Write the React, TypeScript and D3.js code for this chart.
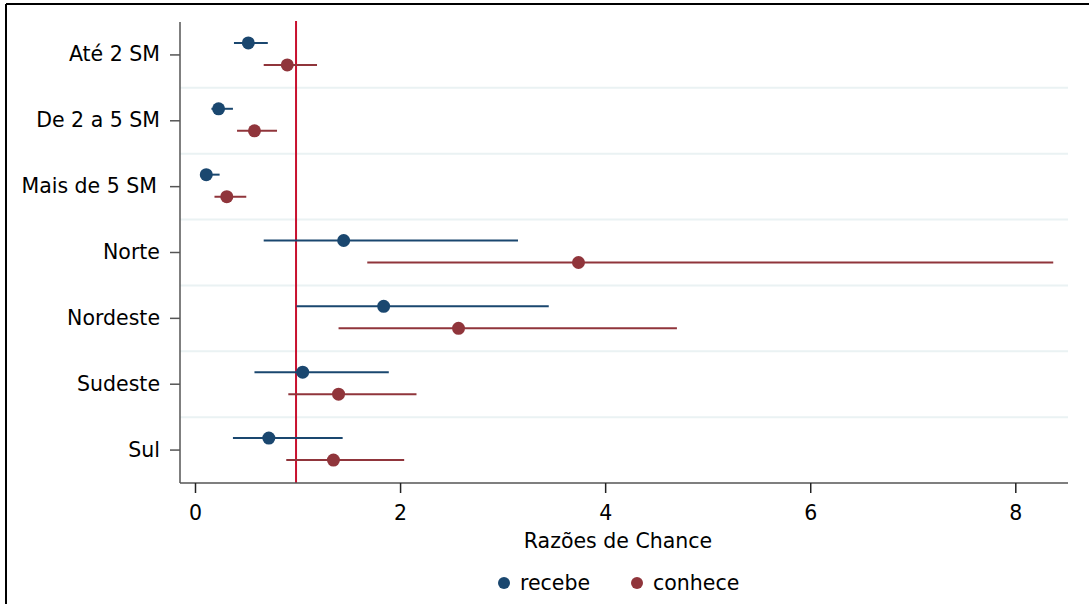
import React, { useRef, useEffect } from 'react';
import * as d3 from 'd3';

const categories = ['Até 2 SM', 'De 2 a 5 SM', 'Mais de 5 SM', 'Norte', 'Nordeste', 'Sudeste', 'Sul'];

// odds ratios and confidence intervals
const recebeOR = [0.52, 0.23, 0.11, 1.45, 1.84, 1.05, 0.72];
const recebeLow = [0.38, 0.16, 0.06, 0.67, 0.99, 0.58, 0.37];
const recebeHigh = [0.71, 0.37, 0.24, 3.15, 3.45, 1.89, 1.44];

const conheceOR = [0.9, 0.58, 0.31, 3.74, 2.57, 1.4, 1.35];
const conheceLow = [0.67, 0.41, 0.19, 1.68, 1.4, 0.91, 0.89];
const conheceHigh = [1.19, 0.8, 0.5, 8.37, 4.7, 2.16, 2.04];

const xTicks = [0, 2, 4, 6, 8];
const seriesNames = ['recebe', 'conhece'];
const colors = ['#1a476f', '#90353b'];

const App = () => {
  const ref = useRef(null);

  useEffect(() => {
    const width = 1089;
    const height = 604;
    const left = 180;
    const right = 1068;
    const top = 22;
    const bottom = 483;
    const font = '"DejaVu Sans", Verdana, sans-serif';
    const fs = '20.5px';

    d3.select(ref.current).selectAll('*').remove();

    const svg = d3
      .select(ref.current)
      .append('svg')
      .attr('width', width)
      .attr('height', height)
      .style('position', 'absolute')
      .style('left', '0px')
      .style('top', '0px')
      .style('background', '#fff');

    // outer frame (left and top only visible)
    svg.append('line').attr('x1', 6).attr('x2', 6).attr('y1', 4).attr('y2', height).attr('stroke', '#000').attr('stroke-width', 2);
    svg.append('line').attr('x1', 6).attr('x2', width).attr('y1', 4).attr('y2', 4).attr('stroke', '#000').attr('stroke-width', 2);

    const x = d3.scaleLinear().domain([0, 8]).range([195, 1015.3]);
    const y = d3.scaleBand().domain(categories).range([top, bottom]);

    // band separators
    svg
      .append('g')
      .selectAll('line')
      .data(categories.slice(1))
      .join('line')
      .attr('x1', left)
      .attr('x2', right)
      .attr('y1', (d) => y(d))
      .attr('y2', (d) => y(d))
      .attr('stroke', '#eaf2f3')
      .attr('stroke-width', 2);

    // reference line at 1
    svg
      .append('line')
      .attr('x1', x(1) - 1.5)
      .attr('x2', x(1) - 1.5)
      .attr('y1', top - 1)
      .attr('y2', bottom)
      .attr('stroke', '#c8102e')
      .attr('stroke-width', 2);

    const series = [
      { or: recebeOR, lo: recebeLow, hi: recebeHigh, off: -11 },
      { or: conheceOR, lo: conheceLow, hi: conheceHigh, off: 11 },
    ];

    series.forEach((s, si) => {
      const g = svg.append('g');
      const yc = (i) => y(categories[i]) + y.bandwidth() / 2 - 1 + s.off;
      g.selectAll('line')
        .data(categories)
        .join('line')
        .attr('x1', (d, i) => x(s.lo[i]))
        .attr('x2', (d, i) => x(s.hi[i]))
        .attr('y1', (d, i) => yc(i))
        .attr('y2', (d, i) => yc(i))
        .attr('stroke', colors[si])
        .attr('stroke-width', 2);
      g.selectAll('circle')
        .data(categories)
        .join('circle')
        .attr('cx', (d, i) => x(s.or[i]))
        .attr('cy', (d, i) => yc(i))
        .attr('r', 6.5)
        .attr('fill', colors[si]);
    });

    // y axis
    svg
      .append('g')
      .attr('transform', `translate(${left},0)`)
      .call(d3.axisLeft(y).tickSize(10).tickPadding(10))
      .call((g) => g.select('.domain').attr('d', `M0,${top}V${bottom}`).attr('stroke', '#555').attr('stroke-width', 1.5))
      .call((g) => g.selectAll('.tick line').attr('stroke', '#555').attr('stroke-width', 1.5))
      .call((g) =>
        g
          .selectAll('.tick text')
          .attr('font-family', font)
          .attr('font-size', fs)
          .attr('fill', '#000')
          .attr('dx', (d) => (d === 'Mais de 5 SM' ? -3 : 0))
      );

    // x axis
    svg
      .append('g')
      .attr('transform', `translate(0,${bottom})`)
      .call(d3.axisBottom(x).tickValues(xTicks).tickSize(10).tickPadding(12))
      .call((g) => g.select('.domain').attr('d', `M${left},0H${right}`).attr('stroke', '#555').attr('stroke-width', 1.5))
      .call((g) => g.selectAll('.tick line').attr('stroke', '#222').attr('stroke-width', 1.5))
      .call((g) => g.selectAll('.tick text').attr('font-family', font).attr('font-size', fs).attr('fill', '#000'));

    svg
      .append('text')
      .attr('x', 618)
      .attr('y', 548)
      .attr('text-anchor', 'middle')
      .attr('font-family', font)
      .attr('font-size', fs)
      .text('Razões de Chance');

    // legend
    const legendX = [504, 637];
    seriesNames.forEach((name, i) => {
      svg.append('circle').attr('cx', legendX[i]).attr('cy', 583).attr('r', 6).attr('fill', colors[i]);
      svg
        .append('text')
        .attr('x', legendX[i] + 16)
        .attr('y', 590)
        .attr('font-family', font)
        .attr('font-size', fs)
        .text(name);
    });
  }, []);

  return <div ref={ref}></div>;
};

export default App;
